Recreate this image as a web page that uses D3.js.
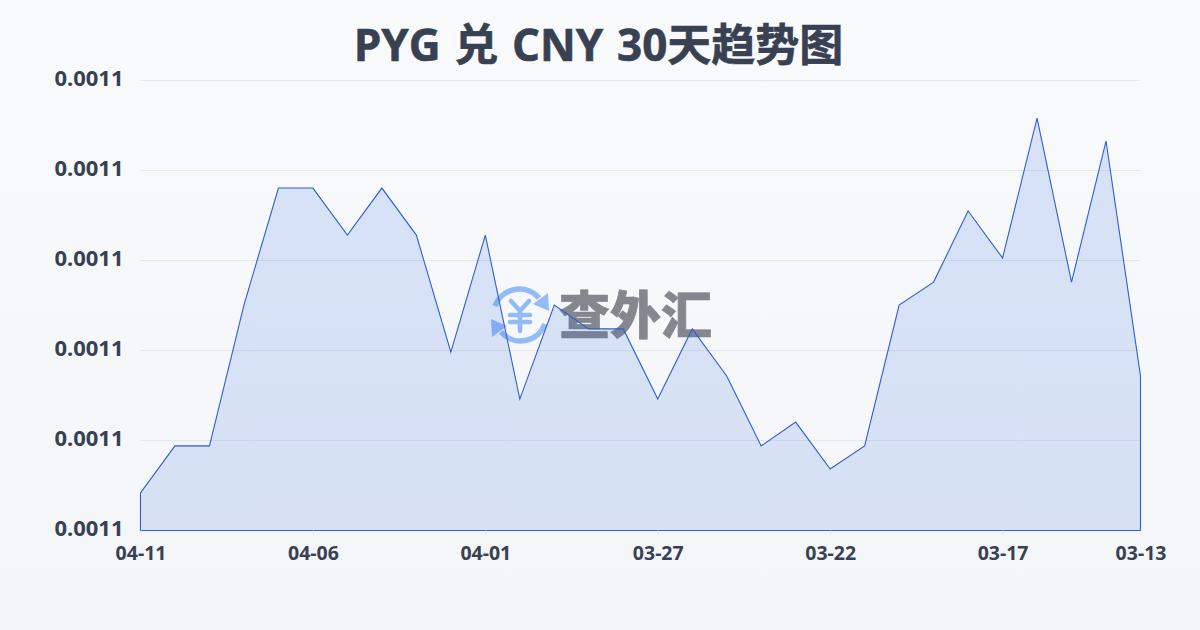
<!DOCTYPE html>
<html><head><meta charset="utf-8">
<script src="https://cdn.jsdelivr.net/npm/d3@7"></script>
<style>html,body{margin:0;padding:0;background:#f5f7fa}svg{display:block}</style></head>
<body><svg id="c" width="1200" height="630"></svg>
<script>
const title = "PYG 兑 CNY 30天趋势图";
const dates = ["04-11","04-10","04-09","04-08","04-07","04-06","04-05","04-04","04-03","04-02","04-01","03-31","03-30","03-29","03-28","03-27","03-26","03-25","03-24","03-23","03-22","03-21","03-20","03-19","03-18","03-17","03-16","03-15","03-14","03-13"];
const rates = [0.00110167,0.00110376,0.00110376,0.00111002,0.00111522,0.00111522,0.00111313,0.00111522,0.00111313,0.00110793,0.00111313,0.00110584,0.00111002,0.00110896,0.00110896,0.00110584,0.00110896,0.00110687,0.00110376,0.00110482,0.00110273,0.00110376,0.00111002,0.00111104,0.00111420,0.00111211,0.00111833,0.00111104,0.00111731,0.00110687];
const xTickLabels = ["04-11","04-06","04-01","03-27","03-22","03-17","03-13"];
const yDomain = [0.0011,0.00112];
const yTicks = [0.0011,0.001104,0.001108,0.001112,0.001116,0.00112];

const svg = d3.select("#c");
const defs = svg.append("defs");
const bg = defs.append("linearGradient").attr("id","bg").attr("x1",0).attr("y1",0).attr("x2",0).attr("y2",1);
bg.append("stop").attr("offset",0).attr("stop-color","#f8fafc");
bg.append("stop").attr("offset",1).attr("stop-color","#f3f5f8");
svg.append("rect").attr("width",1200).attr("height",630).attr("fill","url(#bg)");

const x = d3.scalePoint().domain(dates).range([140.5,1140.5]);
const y = d3.scaleLinear().domain(yDomain).range([530.5,80.5]);
const fontFam = "'Noto Sans','Noto Sans CJK SC',sans-serif";

svg.append("text").attr("x",598.5).attr("y",61).attr("text-anchor","middle")
  .attr("font-family","'Open Sans','Noto Sans CJK SC',sans-serif").attr("font-weight",700).attr("stroke","#374151").attr("stroke-width",0.6)
  .attr("font-size",44).attr("word-spacing",2.3).attr("fill","#374151").text(title);

// gridlines
svg.append("g").selectAll("line").data(yTicks).join("line")
  .attr("x1",140.5).attr("x2",1140.5).attr("y1",d=>y(d)).attr("y2",d=>y(d))
  .attr("stroke","#e5e7eb").attr("stroke-width",1);

// watermark
const wm = svg.append("g");
const cx=520, cy=315;
wm.append("g").attr("fill","none").attr("stroke","#93bbf8").attr("stroke-width",5.5).call(g=>{
  g.append("path").attr("d",`M${cx-25},${cy-9} A26,26 0 0 1 ${cx+19},${cy-17}`);
  g.append("path").attr("d",`M${cx+25},${cy+9} A26,26 0 0 1 ${cx-19},${cy+17}`);
  g.append("path").attr("stroke-width",4.5).attr("stroke-linecap","round").attr("d",`M${cx-9},${cy-14} L${cx},${cy-4} L${cx+9},${cy-14} M${cx},${cy-4} L${cx},${cy+16} M${cx-10},${cy} H${cx+10} M${cx-10},${cy+7} H${cx+10}`);
});
wm.append("path").attr("fill","#93bbf8").attr("d",`M${cx+29},${cy-4} L${cx+13},${cy-11} L${cx+28},${cy-22} Z M${cx-29},${cy+4} L${cx-13},${cy+11} L${cx-28},${cy+22} Z`);
wm.append("text").attr("x",559).attr("y",334).attr("font-family","'Noto Sans CJK SC',sans-serif")
  .attr("font-weight",900).attr("font-size",51).attr("fill","#84878e").attr("stroke","#84878e").attr("stroke-width",0.7).text("查外汇");

// area & line
const ag = defs.append("linearGradient").attr("id","ag").attr("x1",0).attr("y1",0).attr("x2",0).attr("y2",1);
ag.append("stop").attr("offset",0).attr("stop-color","#2860d8").attr("stop-opacity",0.15);
ag.append("stop").attr("offset",1).attr("stop-color","#2860d8").attr("stop-opacity",0.14);
const area = d3.area().x((d,i)=>x(dates[i])).y0(y(yDomain[0])).y1(d=>y(d));
svg.append("path").datum(rates).attr("d",area).attr("fill","url(#ag)").attr("stroke","#2f5fc9").attr("stroke-width",1.1).attr("stroke-linejoin","miter");

// axes
const yAxis = d3.axisLeft(y).tickValues(yTicks).tickFormat(d=>d.toFixed(4)).tickSize(0).tickPadding(0);
const yG = svg.append("g").attr("transform","translate(123.5,0)").call(yAxis);
yG.select(".domain").remove();
yG.selectAll("text").attr("font-family",fontFam).attr("font-weight",700).attr("font-size",22).attr("fill","#374151").attr("dy","0.24em");
const xAxis = d3.axisBottom(x).tickValues(xTickLabels).tickSize(5).tickPadding(6);
const xG = svg.append("g").attr("transform","translate(0,530.5)").call(xAxis);
xG.select(".domain").remove();
xG.selectAll("line").attr("stroke","#e5e7eb");
xG.selectAll("text").attr("font-family",fontFam).attr("font-weight",700).attr("font-size",19.5).attr("fill","#374151").attr("dy","0.95em");
</script></body></html>
